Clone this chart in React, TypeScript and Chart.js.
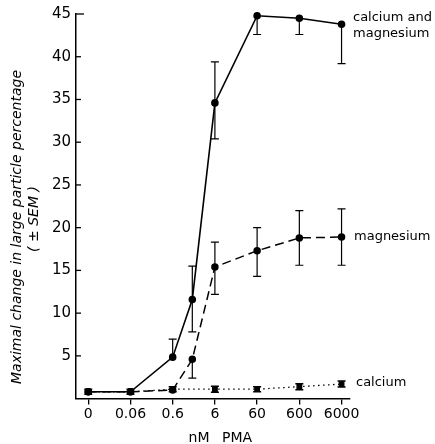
import React, { useEffect, useRef } from "react";
import { Chart, registerables } from "chart.js";

Chart.register(...registerables);

// Tick labels (nM PMA, log-spaced categories with "0" on the left)
const doseLabels = ["0", "0.06", "0.6", "6", "60", "600", "6000"];
const yTickValues = [5, 10, 15, 20, 25, 30, 35, 40, 45];

// calcium and magnesium (solid) and magnesium (dashed) share these doses
const doses = [0, 0.06, 0.6, 1.75, 6, 60, 600, 6000];
const caMg = [0.8, 0.8, 4.85, 11.6, 34.6, 44.8, 44.5, 43.8];
const caMgHigh = [null, null, 6.95, 15.5, 39.4, null, null, null];
const caMgLow = [null, null, null, 7.8, 30.4, 42.6, 42.6, 39.2];

const mg = [0.8, 0.8, 1.0, 4.6, 15.4, 17.3, 18.8, 18.9];
const mgHigh = [null, null, null, null, 18.3, 20.0, 22.0, 22.2];
const mgLow = [null, null, null, 2.4, 12.2, 14.3, 15.6, 15.6];

// calcium (dotted)
const caDoses = [0, 0.06, 0.6, 6, 60, 600, 6000];
const ca = [0.8, 0.8, 1.1, 1.1, 1.1, 1.4, 1.7];
const caSem = [0.3, 0.3, 0.3, 0.35, 0.3, 0.35, 0.35];

const FONT = "'DejaVu Sans', sans-serif";

const pos = (d: number) => (d === 0 ? 0 : 1 + Math.log10(d / 0.06));

const errorBarPlugin = {
  id: "errorBars",
  afterDatasetsDraw(chart: any) {
    const ctx = chart.ctx;
    const ys = chart.scales.y;
    ctx.save();
    ctx.strokeStyle = "#000";
    chart.data.datasets.forEach((ds: any, di: number) => {
      const meta = chart.getDatasetMeta(di);
      const hi = ds.errHigh || [];
      const lo = ds.errLow || [];
      ctx.lineWidth = ds.errWidth || 1.2;
      const cap = ds.capHalf || 4;
      meta.data.forEach((pt: any, i: number) => {
        const x = pt.x;
        const y = pt.y;
        const draw = (v: number | null) => {
          if (v === null || v === undefined) return;
          const yy = ys.getPixelForValue(v);
          ctx.beginPath();
          ctx.moveTo(x, y);
          ctx.lineTo(x, yy);
          ctx.moveTo(x - cap, yy);
          ctx.lineTo(x + cap, yy);
          ctx.stroke();
        };
        draw(hi[i]);
        draw(lo[i]);
      });
    });
    ctx.restore();
  },
};

const decorPlugin = {
  id: "decor",
  afterDraw(chart: any) {
    const ctx = chart.ctx;
    const ys = chart.scales.y;
    const xs = chart.scales.x;
    const left = chart.chartArea.left;
    ctx.save();
    ctx.strokeStyle = "#000";
    ctx.lineWidth = 1.3;
    // inward y ticks
    yTickValues.forEach((v) => {
      const y = ys.getPixelForValue(v);
      ctx.beginPath();
      ctx.moveTo(left, y);
      ctx.lineTo(left + (v === 45 ? 8 : 5), y);
      ctx.stroke();
    });
    ctx.fillStyle = "#000";
    // y title
    ctx.save();
    ctx.translate(17, 227);
    ctx.rotate(-Math.PI / 2);
    ctx.textAlign = "center";
    ctx.textBaseline = "middle";
    ctx.font = `italic 14px ${FONT}`;
    ctx.fillText("Maximal change in large particle percentage", 0, 0);
    ctx.fillText("( ± SEM )", 8, 17);
    ctx.restore();
    // x title
    ctx.textAlign = "center";
    ctx.textBaseline = "middle";
    ctx.font = `14px ${FONT}`;
    ctx.fillText("nM", 199, 438);
    ctx.fillText("PMA", 237, 438);
    // series labels
    ctx.textAlign = "left";
    ctx.font = `13px ${FONT}`;
    const lx = xs.right + 3;
    ctx.fillText("calcium and", lx, 18);
    ctx.fillText("magnesium", lx, 34);
    ctx.fillText("magnesium", lx + 1, ys.getPixelForValue(mg[mg.length - 1]));
    ctx.fillText("calcium", lx + 3, ys.getPixelForValue(ca[ca.length - 1]) - 1);
    ctx.restore();
  },
};

export default function App() {
  const ref = useRef<HTMLCanvasElement | null>(null);
  useEffect(() => {
    document.body.style.margin = "0";
    const canvas = ref.current;
    if (!canvas) return;
    const chart = new Chart(canvas, {
      type: "line",
      data: {
        datasets: [
          {
            label: "calcium and magnesium",
            data: doses.map((d, i) => ({ x: pos(d), y: caMg[i] })),
            borderColor: "#000",
            backgroundColor: "#000",
            borderWidth: 1.6,
            pointRadius: 3,
            pointBackgroundColor: "#000",
            pointBorderColor: "#000",
            tension: 0,
            clip: false,
            errHigh: caMgHigh,
            errLow: caMgLow,
          } as any,
          {
            label: "magnesium",
            data: doses.map((d, i) => ({ x: pos(d), y: mg[i] })),
            borderColor: "#000",
            backgroundColor: "#000",
            borderWidth: 1.5,
            borderDash: [9, 5],
            pointRadius: 3,
            pointBackgroundColor: "#000",
            pointBorderColor: "#000",
            tension: 0,
            clip: false,
            errHigh: mgHigh,
            errLow: mgLow,
          } as any,
          {
            label: "calcium",
            data: caDoses.map((d, i) => ({ x: pos(d), y: ca[i] })),
            borderColor: "#000",
            backgroundColor: "#000",
            borderWidth: 1.3,
            borderDash: [1.5, 3.5],
            pointStyle: "rect",
            pointRadius: 3.2,
            pointBackgroundColor: "#000",
            pointBorderColor: "#000",
            tension: 0,
            clip: false,
            errHigh: ca.map((v, i) => v + caSem[i]),
            errLow: ca.map((v, i) => v - caSem[i]),
            capHalf: 4,
            errWidth: 1.5,
          } as any,
        ],
      },
      options: {
        animation: false,
        responsive: false,
        maintainAspectRatio: false,
        layout: { padding: { left: 0, right: 85, top: 12.7, bottom: 0 } },
        plugins: { legend: { display: false }, tooltip: { enabled: false } },
        scales: {
          x: {
            type: "linear",
            min: -0.29,
            max: 6.2,
            afterBuildTicks: (s: any) => {
              s.ticks = doseLabels.map((l) => ({ value: pos(Number(l)) }));
            },
            ticks: {
              callback: (_v: any, i: number) => doseLabels[i],
              font: { family: FONT, size: 14 },
              color: "#000",
              padding: 1,
              maxRotation: 0,
              autoSkip: false,
            },
            grid: {
              drawOnChartArea: false,
              drawTicks: true,
              tickLength: 6,
              color: "#000",
              lineWidth: 1.3,
            },
            border: { color: "#000", width: 1.5 },
            afterFit: (s: any) => {
              s.height = 45.4;
            },
          },
          y: {
            min: 0,
            max: 45,
            afterBuildTicks: (s: any) => {
              s.ticks = yTickValues.map((v) => ({ value: v }));
            },
            ticks: {
              font: { family: FONT, size: 15 },
              color: "#000",
              padding: 5,
            },
            grid: { drawOnChartArea: false, drawTicks: false },
            border: { color: "#000", width: 1.5 },
            afterFit: (s: any) => {
              s.width = 76;
            },
          },
        },
      } as any,
      plugins: [errorBarPlugin, decorPlugin],
    });
    return () => chart.destroy();
  }, []);
  return (
    <canvas
      ref={ref}
      width={435}
      height={444}
      style={{ display: "block", width: "435px", height: "444px" }}
    />
  );
}
